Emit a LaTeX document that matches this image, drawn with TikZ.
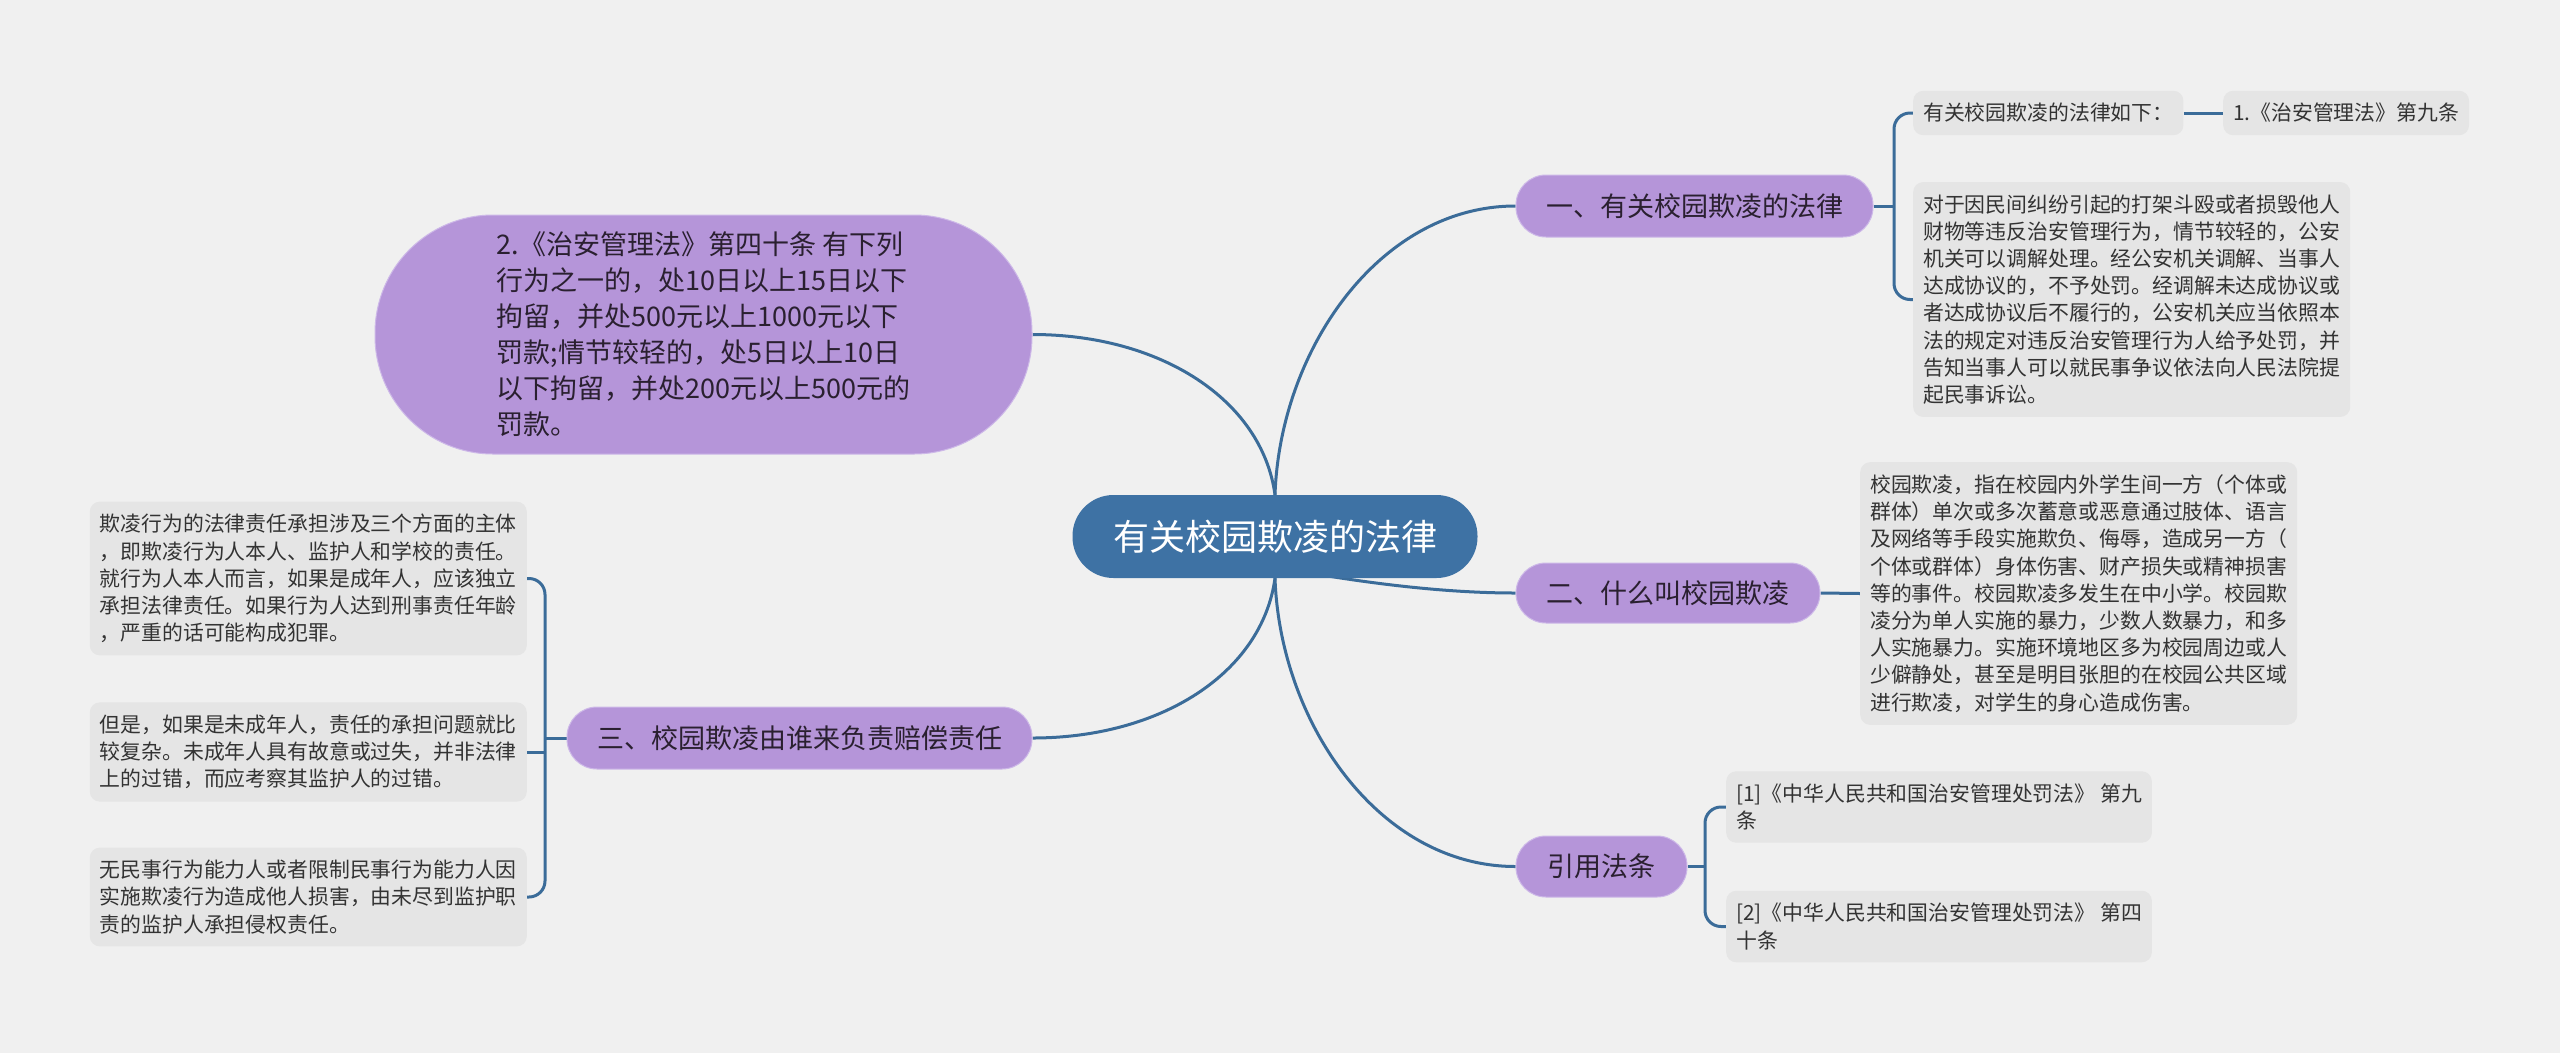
\documentclass[tikz,border=0pt]{standalone}
\usepackage{fontspec}
\newfontfamily\cjk{Noto Sans CJK SC}
\usetikzlibrary{backgrounds}
\definecolor{bgc}{HTML}{F0F0F0}
\definecolor{rootc}{HTML}{3E72A4}
\definecolor{linec}{HTML}{3B6C99}
\definecolor{purp}{HTML}{B595D9}
\definecolor{purpedge}{HTML}{CDB8E8}
\definecolor{ptext}{HTML}{2A2030}
\definecolor{leafc}{HTML}{E5E5E5}
\definecolor{ltext}{HTML}{333333}
\begin{document}
\begin{tikzpicture}[x=1pt,y=-1pt,
  root/.style={rectangle, fill=rootc, text=white, rounded corners=41pt,
    minimum width=405pt, minimum height=83pt, inner sep=0pt,
    font=\cjk\fontsize{36}{40}\selectfont},
  branch/.style={rectangle, fill=purp, draw=purpedge, line width=1pt,
    rounded corners=30pt, minimum height=62pt, inner sep=0pt, text=ptext,
    font=\cjk\fontsize{27}{32}\selectfont},
  bignote/.style={rectangle, fill=purp, draw=purpedge, line width=1pt,
    rounded corners=118pt, minimum width=657pt, minimum height=239pt,
    inner sep=0pt, text=ptext, align=left,
    font=\cjk\fontsize{27}{36}\selectfont},
  leaf/.style={rectangle, fill=leafc, rounded corners=10pt, inner xsep=10pt,
    inner ysep=12.5pt, align=left, text=ltext,
    font=\cjk\fontsize{20.85}{27.2}\selectfont},
  link/.style={draw=linec, line width=3pt},
  brace/.style={draw=linec, line width=3pt, rounded corners=16pt}]
\useasboundingbox (0,0) rectangle (2560,1053);

% central
\node[root] (c) at (1275,536.5) {有关校园欺凌的法律};

% branches
\node[branch, minimum width=357pt] (n1) at (1694.5,206) {一、有关校园欺凌的法律};
\node[branch, minimum width=304pt, minimum height=60pt] (n2) at (1668,593) {二、什么叫校园欺凌};
\node[branch, minimum width=465pt] (n3) at (799.5,738) {三、校园欺凌由谁来负责赔偿责任};
\node[branch, minimum width=171pt, minimum height=61pt] (n4) at (1601.5,866.5) {引用法条};
\node[bignote] (p) at (703.5,334.5) {2.《治安管理法》第四十条 有下列\\
行为之一的，处10日以上15日以下\\
拘留，并处500元以上1000元以下\\
罚款;情节较轻的，处5日以上10日\\
以下拘留，并处200元以上500元的\\
罚款。};

% leaves of branch 1
\node[leaf, anchor=west] (g1a) at (1913,113) {有关校园欺凌的法律如下：};
\node[leaf, anchor=west] (g1b) at (2223,113) {1.《治安管理法》第九条};
\node[leaf, anchor=west] (g1c) at (1913,299.5) {对于因民间纠纷引起的打架斗殴或者损毁他人\\
财物等违反治安管理行为，情节较轻的，公安\\
机关可以调解处理。经公安机关调解、当事人\\
达成协议的，不予处罚。经调解未达成协议或\\
者达成协议后不履行的，公安机关应当依照本\\
法的规定对违反治安管理行为人给予处罚，并\\
告知当事人可以就民事争议依法向人民法院提\\
起民事诉讼。};

% leaf of branch 2
\node[leaf, anchor=west] (g2) at (1860,593.5) {校园欺凌，指在校园内外学生间一方（个体或\\
群体）单次或多次蓄意或恶意通过肢体、语言\\
及网络等手段实施欺负、侮辱，造成另一方（\\
个体或群体）身体伤害、财产损失或精神损害\\
等的事件。校园欺凌多发生在中小学。校园欺\\
凌分为单人实施的暴力，少数人数暴力，和多\\
人实施暴力。实施环境地区多为校园周边或人\\
少僻静处，甚至是明目张胆的在校园公共区域\\
进行欺凌，对学生的身心造成伤害。};

% leaves of branch 3
\node[leaf, anchor=east] (g3a) at (527,578.5) {欺凌行为的法律责任承担涉及三个方面的主体\\
，即欺凌行为人本人、监护人和学校的责任。\\
就行为人本人而言，如果是成年人，应该独立\\
承担法律责任。如果行为人达到刑事责任年龄\\
，严重的话可能构成犯罪。};
\node[leaf, anchor=east] (g3b) at (527,752) {但是，如果是未成年人，责任的承担问题就比\\
较复杂。未成年人具有故意或过失，并非法律\\
上的过错，而应考察其监护人的过错。};
\node[leaf, anchor=east] (g3c) at (527,897) {无民事行为能力人或者限制民事行为能力人因\\
实施欺凌行为造成他人损害，由未尽到监护职\\
责的监护人承担侵权责任。};

% leaves of branch 4
\node[leaf, anchor=west] (g4a) at (1726,807) {[1]《中华人民共和国治安管理处罚法》 第九\\
条};
\node[leaf, anchor=west] (g4b) at (1726,926.5) {[2]《中华人民共和国治安管理处罚法》 第四\\
十条};

% bracket joints
\coordinate (b1) at (1894,206);
\coordinate (b3) at (545,738);
\coordinate (b4) at (1705,866.5);
\coordinate (c2) at (1292,570);

\begin{pgfonlayer}{background}
  \fill[bgc] (0,0) rectangle (2560,1053);
  % main curves
  \draw[link] (c.north) .. controls +(5,-145) and +(-136,0) .. (n1.west);
  \draw[link] (c.north) .. controls +(-13,-95) and +(128,0) .. (p.east);
  \draw[link] (c.south) .. controls +(-13,95) and +(128,0) .. (n3.east);
  \draw[link] (c.south) .. controls +(5,145) and +(-136,0) .. (n4.west);
  \draw[link] (c2) .. controls +(68,12) and +(-76,0) .. (n2.west);
  % branch 1
  \draw[link] (n1.east) -- (b1);
  \draw[brace] (g1a.west) -| (b1) |- (g1c.west);
  \draw[link] (g1a.east) -- (g1b.west);
  % branch 2
  \draw[link] (n2.east) -- (g2.west);
  % branch 3
  \draw[link] (n3.west) -- (b3);
  \draw[brace] (g3a.east) -| (b3) |- (g3c.east);
  \draw[link] (g3b.east) -- (g3b.east -| b3);
  % branch 4
  \draw[link] (n4.east) -- (b4);
  \draw[brace] (g4a.west) -| (b4) |- (g4b.west);
\end{pgfonlayer}
\end{tikzpicture}
\end{document}
